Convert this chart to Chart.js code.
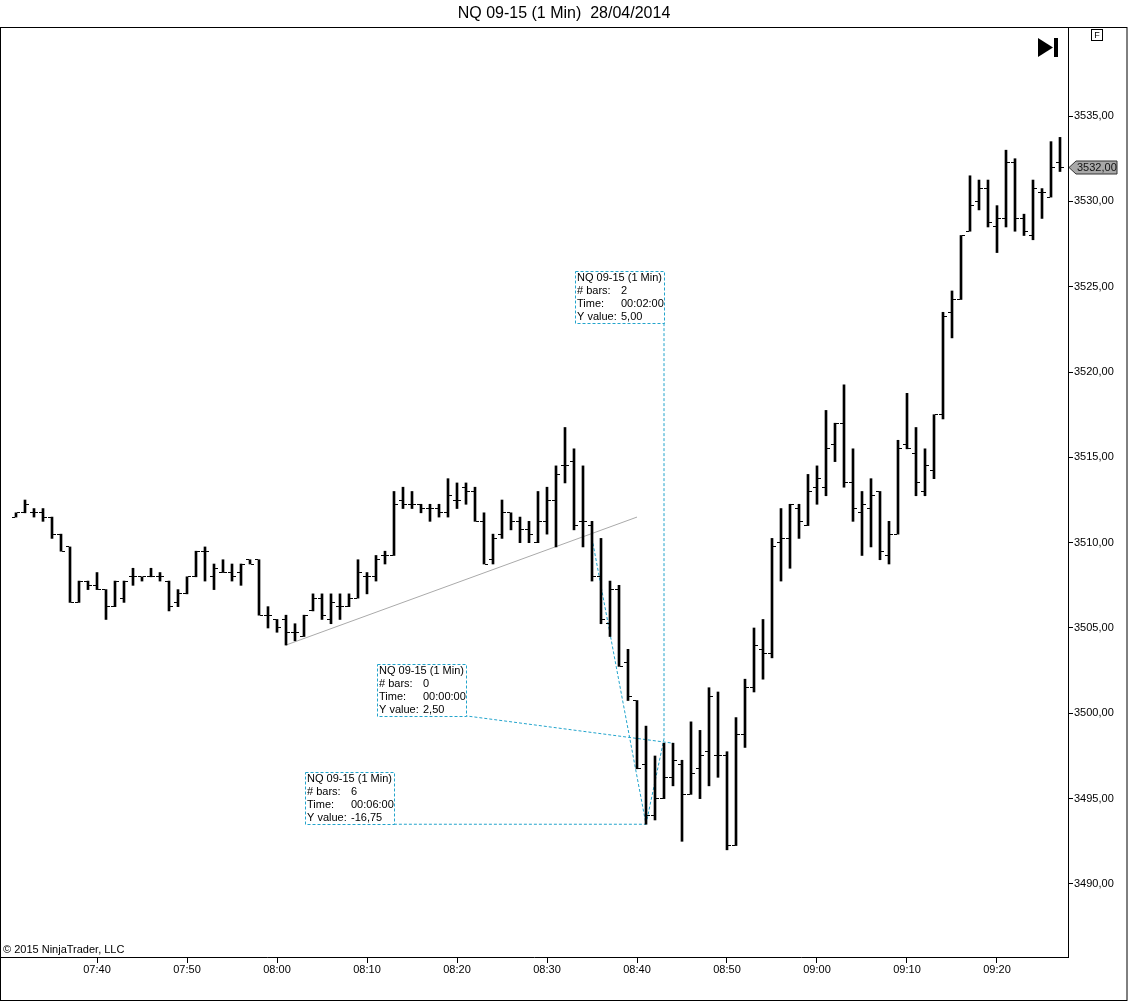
<!DOCTYPE html>
<html>
<head>
<meta charset="utf-8">
<title>NQ 09-15 (1 Min)  28/04/2014</title>
<script src="https://cdn.jsdelivr.net/npm/chart.js@4.4.0/dist/chart.umd.min.js"></script>
<style>
  html, body { margin: 0; padding: 0; background: #fff; }
  #wrap { width: 1128px; height: 1002px; position: relative; }
</style>
</head>
<body>
<div id="wrap"><canvas id="chart"></canvas></div>
<script>
// 1 minute bars, NQ 09-15, 28/04/2014
var times = [
  '07:31','07:32','07:33','07:34','07:35','07:36','07:37','07:38','07:39','07:40',
  '07:41','07:42','07:43','07:44','07:45','07:46','07:47','07:48','07:49','07:50',
  '07:51','07:52','07:53','07:54','07:55','07:56','07:57','07:58','07:59','08:00',
  '08:01','08:02','08:03','08:04','08:05','08:06','08:07','08:08','08:09','08:10',
  '08:11','08:12','08:13','08:14','08:15','08:16','08:17','08:18','08:19','08:20',
  '08:21','08:22','08:23','08:24','08:25','08:26','08:27','08:28','08:29','08:30',
  '08:31','08:32','08:33','08:34','08:35','08:36','08:37','08:38','08:39','08:40',
  '08:41','08:42','08:43','08:44','08:45','08:46','08:47','08:48','08:49','08:50',
  '08:51','08:52','08:53','08:54','08:55','08:56','08:57','08:58','08:59','09:00',
  '09:01','09:02','09:03','09:04','09:05','09:06','09:07','09:08','09:09','09:10',
  '09:11','09:12','09:13','09:14','09:15','09:16','09:17','09:18','09:19','09:20',
  '09:21','09:22','09:23','09:24','09:25','09:26','09:27'
];
var opens = [
  3511.5, 3511.75, 3511.75, 3511.75, 3511.5, 3510.5, 3509.75, 3506.5, 3507.75, 3507.5,
  3507.25, 3506.25, 3506.75, 3508.0, 3508.0, 3508.0, 3508.0, 3507.75, 3506.5, 3507.0,
  3508.0, 3509.5, 3508.0, 3508.25, 3508.25, 3508.25, 3509.0, 3509.0, 3505.75, 3505.5,
  3505.5, 3504.75, 3504.5, 3506.0, 3506.75, 3505.5, 3506.25, 3506.25, 3506.75, 3508.0,
  3508.0, 3509.25, 3509.25, 3512.5, 3512.25, 3512.25, 3512.0, 3512.0, 3511.75, 3512.5,
  3513.25, 3513.0, 3511.25, 3509.0, 3510.5, 3511.75, 3511.25, 3510.75, 3510.0, 3511.25,
  3512.5, 3514.5, 3514.75, 3511.25, 3511.0, 3508.0, 3505.25, 3507.25, 3503.0, 3500.75,
  3497.0, 3494.0, 3495.0, 3496.25, 3497.0, 3495.25, 3496.75, 3497.75, 3497.5, 3497.5,
  3492.25, 3498.75, 3501.5, 3503.75, 3503.5, 3510.0, 3510.25, 3512.0, 3511.0, 3513.25,
  3513.25, 3515.75, 3517.0, 3513.5, 3511.75, 3512.0, 3513.0, 3509.25, 3510.5, 3515.75,
  3515.25, 3513.0, 3514.25, 3517.5, 3523.5, 3524.25, 3528.25, 3530.0, 3530.75, 3528.5,
  3529.0, 3532.25, 3529.0, 3528.0, 3530.5, 3530.25, 3532.25
];
var highs = [
  3511.75, 3512.5, 3512.0, 3512.0, 3511.5, 3510.5, 3509.75, 3507.75, 3507.75, 3508.25,
  3507.25, 3507.75, 3507.75, 3508.5, 3508.0, 3508.5, 3508.25, 3507.75, 3507.25, 3508.0,
  3509.5, 3509.75, 3508.75, 3509.0, 3508.75, 3508.75, 3509.0, 3509.0, 3506.25, 3505.5,
  3505.75, 3505.25, 3505.75, 3507.0, 3507.0, 3507.0, 3507.0, 3507.0, 3509.0, 3508.25,
  3509.25, 3509.5, 3513.0, 3513.25, 3513.0, 3512.25, 3512.25, 3512.25, 3513.75, 3513.5,
  3513.5, 3513.25, 3511.75, 3510.5, 3512.5, 3511.75, 3511.5, 3511.25, 3513.0, 3513.25,
  3514.5, 3516.75, 3515.5, 3514.5, 3511.25, 3510.25, 3507.75, 3507.5, 3503.75, 3500.75,
  3499.25, 3497.5, 3498.25, 3498.25, 3497.25, 3499.5, 3499.0, 3501.5, 3501.25, 3497.75,
  3499.75, 3502.0, 3505.0, 3505.5, 3510.25, 3512.0, 3512.25, 3512.25, 3514.0, 3514.5,
  3517.75, 3517.0, 3519.25, 3515.5, 3513.0, 3513.75, 3513.0, 3511.25, 3516.0, 3518.75,
  3516.75, 3515.5, 3517.5, 3523.5, 3524.75, 3528.0, 3531.5, 3531.25, 3531.25, 3529.75,
  3533.0, 3532.5, 3529.25, 3531.25, 3530.75, 3533.5, 3533.75
];
var lows = [
  3511.5, 3511.75, 3511.5, 3511.25, 3510.25, 3509.5, 3506.5, 3506.5, 3507.25, 3507.25,
  3505.5, 3506.25, 3506.5, 3507.5, 3507.75, 3508.0, 3507.75, 3506.0, 3506.25, 3507.0,
  3508.0, 3507.75, 3507.25, 3508.25, 3507.75, 3507.5, 3508.75, 3505.75, 3505.0, 3504.75,
  3504.0, 3504.25, 3504.5, 3506.0, 3505.5, 3505.25, 3505.5, 3506.25, 3506.75, 3507.0,
  3507.75, 3508.75, 3509.25, 3512.0, 3512.0, 3511.75, 3511.25, 3511.5, 3511.5, 3512.0,
  3512.25, 3511.25, 3508.75, 3508.75, 3510.25, 3510.75, 3510.0, 3510.0, 3510.0, 3510.5,
  3509.75, 3513.5, 3510.75, 3509.75, 3507.75, 3505.25, 3504.5, 3502.75, 3500.75, 3496.75,
  3493.5, 3493.75, 3495.0, 3495.75, 3492.5, 3495.25, 3495.0, 3495.75, 3496.25, 3492.0,
  3492.25, 3498.0, 3501.25, 3502.0, 3503.25, 3507.75, 3508.5, 3510.25, 3511.0, 3512.25,
  3512.75, 3514.75, 3513.25, 3511.25, 3509.25, 3509.75, 3509.0, 3508.75, 3510.5, 3515.5,
  3512.75, 3512.75, 3513.75, 3517.25, 3522.0, 3524.25, 3528.25, 3529.5, 3528.5, 3527.0,
  3528.5, 3528.25, 3528.0, 3527.75, 3529.0, 3530.25, 3531.75
];
var closes = [
  3511.75, 3512.25, 3511.75, 3511.5, 3510.5, 3509.5, 3506.5, 3507.75, 3507.5, 3507.25,
  3506.25, 3507.75, 3507.75, 3508.0, 3508.0, 3508.0, 3508.0, 3506.25, 3507.0, 3508.0,
  3509.5, 3509.5, 3508.5, 3508.25, 3508.0, 3508.75, 3508.75, 3505.75, 3505.75, 3505.0,
  3504.75, 3504.75, 3505.75, 3506.75, 3505.75, 3506.5, 3506.25, 3506.75, 3508.25, 3508.0,
  3509.0, 3509.25, 3512.25, 3512.25, 3512.25, 3512.0, 3512.0, 3511.75, 3512.75, 3512.5,
  3513.0, 3511.25, 3508.75, 3510.25, 3511.75, 3511.25, 3510.75, 3510.5, 3511.25, 3512.5,
  3514.0, 3514.5, 3511.0, 3511.25, 3508.0, 3505.5, 3507.25, 3502.75, 3501.0, 3496.75,
  3494.0, 3495.0, 3496.25, 3497.25, 3495.25, 3496.5, 3497.5, 3501.0, 3497.5, 3492.25,
  3498.75, 3501.5, 3504.0, 3503.5, 3509.75, 3510.25, 3512.25, 3511.25, 3513.0, 3513.75,
  3515.5, 3517.0, 3513.5, 3512.0, 3512.25, 3512.75, 3509.5, 3510.5, 3515.5, 3515.5,
  3513.5, 3514.5, 3517.5, 3523.25, 3524.25, 3528.0, 3529.75, 3530.75, 3528.75, 3529.0,
  3532.25, 3529.0, 3528.25, 3530.75, 3530.5, 3532.0, 3532.0
];

var xTickLabels = ['07:40','07:50','08:00','08:10','08:20','08:30','08:40','08:50','09:00','09:10','09:20'];
var yTickValues = [3490, 3495, 3500, 3505, 3510, 3515, 3520, 3525, 3530, 3535];

// drawings on the chart: trend line and three measure tools
var trendFrom = ['08:01', 3504.0];
var trendTo = ['08:40', 3511.5];
var measures = [
  { from: ['08:41', 3493.5],  to: ['08:43', 3498.5],  box: ['08:43', 3522.9] },
  { from: ['08:44', 3495.75], to: ['08:44', 3498.25], box: ['08:21', 3499.85] },
  { from: ['08:35', 3510.25], to: ['08:41', 3493.5],  box: ['08:13', 3493.5] }
];

var FONT = "'Liberation Sans', Arial, sans-serif";
var CYAN = '#22a4cc';

function toMin(t) {
  var p = t.split(':');
  return parseInt(p[0], 10) * 60 + parseInt(p[1], 10);
}
function pad2(n) {
  return (n < 10 ? '0' : '') + n;
}
function fmtMin(m) {
  return pad2(Math.floor(m / 60)) + ':' + pad2(m % 60);
}
function fmtPrice(v) {
  return v.toFixed(2).replace('.', ',');
}

// little images for the open (left) and close (right) ticks
function tickImage(left) {
  var c = document.createElement('canvas');
  c.width = 8; c.height = 1;
  var g = c.getContext('2d');
  g.fillStyle = '#000';
  g.fillRect(left ? 0 : 5, 0, 3, 1);
  return c;
}

var rangeData = times.map(function(t, i) { return { x: toMin(t), y: [lows[i], highs[i]] }; });
var openData = times.map(function(t, i) { return { x: toMin(t), y: opens[i] }; });
var closeData = times.map(function(t, i) { return { x: toMin(t), y: closes[i] }; });

var datasets = [
  { type: 'bar', data: rangeData, backgroundColor: '#000', borderWidth: 0, barThickness: 2, grouped: false },
  { type: 'scatter', data: openData, pointStyle: tickImage(true), pointRadius: 4 },
  { type: 'scatter', data: closeData, pointStyle: tickImage(false), pointRadius: 4 },
  { type: 'line', data: [{ x: toMin(trendFrom[0]), y: trendFrom[1] }, { x: toMin(trendTo[0]), y: trendTo[1] }],
    borderColor: '#aaaaaa', borderWidth: 1, pointRadius: 0, fill: false, tension: 0 }
];
measures.forEach(function(m) {
  datasets.push({
    type: 'line',
    data: [m.from, m.to, m.box].map(function(p) { return { x: toMin(p[0]), y: p[1] }; }),
    borderColor: CYAN, borderWidth: 1, borderDash: [3, 2], pointRadius: 0, fill: false, tension: 0
  });
});

var measureBoxes = {
  id: 'measureBoxes',
  afterDatasetsDraw: function(chart) {
    var ctx = chart.ctx, xs = chart.scales.x, ys = chart.scales.y;
    ctx.save();
    ctx.font = '11px ' + FONT;
    ctx.textBaseline = 'middle';
    measures.forEach(function(m) {
      var bars = toMin(m.to[0]) - toMin(m.from[0]);
      var rows = [
        ['NQ 09-15 (1 Min)', ''],
        ['# bars:', String(bars)],
        ['Time:', fmtMin(bars) + ':00'],
        ['Y value:', fmtPrice(m.to[1] - m.from[1])]
      ];
      var w = Math.round(ctx.measureText(rows[0][0]).width) + 4;
      var h = 52;
      var px = Math.round(xs.getPixelForValue(toMin(m.box[0])));
      var py = Math.round(ys.getPixelForValue(m.box[1]));
      var x0 = px - w, y0 = py - h;
      ctx.setLineDash([3, 2]);
      ctx.strokeStyle = CYAN;
      ctx.lineWidth = 1;
      ctx.strokeRect(x0 + 0.5, y0 + 0.5, w, h);
      ctx.setLineDash([]);
      ctx.fillStyle = '#000';
      rows.forEach(function(r, i) {
        ctx.fillText(r[0], x0 + 2, y0 + 7 + i * 13);
        if (r[1]) ctx.fillText(r[1], x0 + 46, y0 + 7 + i * 13);
      });
    });
    ctx.restore();
  }
};

var frameAndMarks = {
  id: 'frameAndMarks',
  afterDraw: function(chart) {
    var ctx = chart.ctx, ys = chart.scales.y, area = chart.chartArea;
    ctx.save();
    // outer frame
    ctx.strokeStyle = '#000';
    ctx.lineWidth = 1;
    ctx.strokeRect(0.5, 27.5, chart.width - 1.5, chart.height - 29);

    // last price marker
    var last = closes[closes.length - 1];
    var y = Math.round(ys.getPixelForValue(last));
    var ax = area.right;
    ctx.beginPath();
    ctx.moveTo(ax + 1, y + 0.5);
    ctx.lineTo(ax + 8, y - 6);
    ctx.lineTo(ax + 49, y - 6);
    ctx.lineTo(ax + 49, y + 7);
    ctx.lineTo(ax + 8, y + 7);
    ctx.closePath();
    ctx.fillStyle = '#a8a8a8';
    ctx.fill();
    ctx.strokeStyle = '#333';
    ctx.stroke();
    ctx.fillStyle = '#111';
    ctx.font = '11px ' + FONT;
    ctx.textBaseline = 'middle';
    ctx.fillText(fmtPrice(last), ax + 9, y + 0.5);

    // "F" button
    ctx.strokeStyle = '#000';
    ctx.strokeRect(1091.5, 29.5, 11, 11);
    ctx.font = '9px ' + FONT;
    ctx.textAlign = 'center';
    ctx.fillStyle = '#000';
    ctx.fillText('F', 1097, 35.5);

    // scroll-to-end button
    ctx.beginPath();
    ctx.moveTo(1038, 38);
    ctx.lineTo(1038, 57);
    ctx.lineTo(1053, 47.5);
    ctx.closePath();
    ctx.fill();
    ctx.fillRect(1054, 38, 4, 19);

    // copyright
    ctx.textAlign = 'left';
    ctx.font = '11px ' + FONT;
    ctx.fillText('\u00a9 2015 NinjaTrader, LLC', 3, 950);
    ctx.restore();
  }
};

new Chart(document.getElementById('chart'), {
  type: 'bar',
  data: { datasets: datasets },
  options: {
    responsive: true,
    maintainAspectRatio: false,
    animation: false,
    events: [],
    layout: { padding: 0, autoPadding: false },
    plugins: {
      legend: { display: false },
      tooltip: { enabled: false },
      title: {
        display: true,
        text: 'NQ 09-15 (1 Min)  28/04/2014',
        color: '#000',
        font: { family: FONT, size: 16, weight: 'normal' },
        padding: { top: 3.5, bottom: 5.3 }
      }
    },
    scales: {
      x: {
        type: 'linear',
        offset: false,
        min: 449.2222,
        max: 567.8889,
        grid: { display: true, drawOnChartArea: false, drawTicks: true, tickLength: 6, color: '#000', offset: false },
        border: { display: true, color: '#000' },
        ticks: {
          color: '#000',
          font: { family: FONT, size: 11 },
          padding: 0,
          maxRotation: 0,
          autoSkip: false,
          callback: function(v) { return fmtMin(v); }
        },
        afterBuildTicks: function(s) {
          s.ticks = xTickLabels.map(function(t) { return { value: toMin(t) }; });
        },
        afterFit: function(s) {
          s.height = 45;
          s.paddingLeft = 0;
          s.paddingRight = 0;
        }
      },
      y: {
        type: 'linear',
        position: 'right',
        min: 3485.72,
        max: 3540.16,
        grid: { display: true, drawOnChartArea: false, drawTicks: true, tickLength: 5, color: '#000' },
        border: { display: true, color: '#000' },
        ticks: {
          color: '#000',
          font: { family: FONT, size: 11 },
          padding: 1,
          callback: function(v) { return fmtPrice(v); }
        },
        afterBuildTicks: function(s) {
          s.ticks = yTickValues.map(function(v) { return { value: v }; });
        },
        afterFit: function(s) {
          s.width = 60;
          s.paddingTop = 0;
          s.paddingBottom = 0;
        }
      }
    }
  },
  plugins: [measureBoxes, frameAndMarks]
});
</script>
</body>
</html>
